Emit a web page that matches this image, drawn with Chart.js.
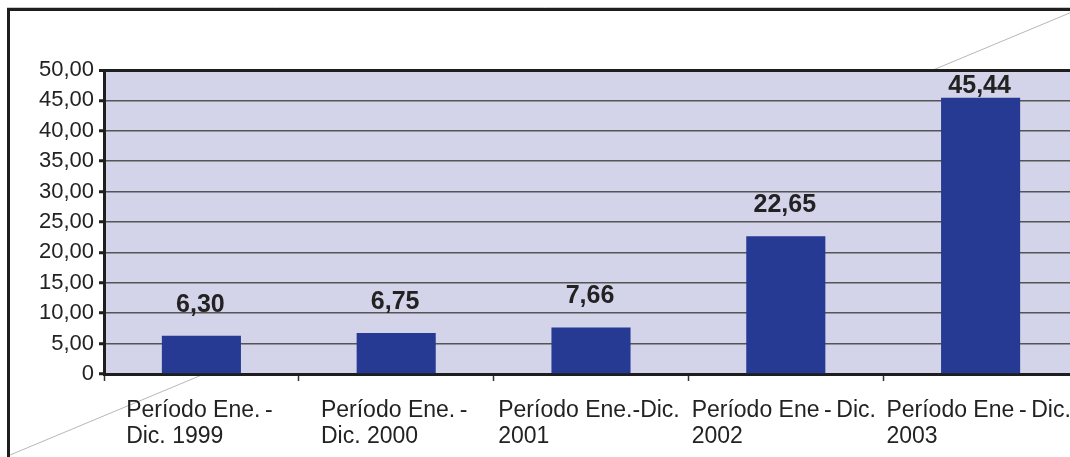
<!DOCTYPE html>
<html>
<head>
<meta charset="utf-8">
<script src="https://cdn.jsdelivr.net/npm/chart.js@4"></script>
<style>
  body { margin: 0; background: #fff; overflow: hidden; width: 1070px; height: 457px; }
  #chart { display: block; }
</style>
</head>
<body>
<canvas id="chart" width="1082" height="457"></canvas>
<script>
const periods = [
  ["Período Ene.\u2009-", "Dic. 1999"],
  ["Período Ene.\u2009-", "Dic. 2000"],
  ["Período Ene.-Dic.", "2001"],
  ["Período Ene\u2009-\u2009Dic.", "2002"],
  ["Período Ene\u2009-\u2009Dic.", "2003"]
];
const values = [6.30, 6.75, 7.66, 22.65, 45.44];

function fmt(v) {
  return v === 0 ? "0" : v.toFixed(2).replace(".", ",");
}

// white page, stray diagonal rule, lavender plot area and the outer frame
const background = {
  id: "background",
  beforeDraw(chart) {
    const c = chart.ctx;
    const a = chart.chartArea;
    c.save();
    c.fillStyle = "#fff";
    c.fillRect(0, 0, chart.width, chart.height);
    c.strokeStyle = "#b8b8b8";
    c.lineWidth = 1;
    c.beginPath();
    c.moveTo(10, 455);
    c.lineTo(1072, 12);
    c.stroke();
    c.fillStyle = "#d3d3e9";
    c.fillRect(a.left, a.top, a.right - a.left, a.bottom - a.top);
    c.strokeStyle = "#c8c8c8";
    c.beginPath();
    c.moveTo(7, 7.5);
    c.lineTo(chart.width, 7.5);
    c.stroke();
    c.strokeStyle = "#1e1e1e";
    c.lineWidth = 3;
    c.beginPath();
    c.moveTo(8.5, chart.height);
    c.lineTo(8.5, 9.5);
    c.lineTo(chart.width, 9.5);
    c.stroke();
    c.restore();
  }
};

// value above each bar, kept inside the plot at the top
const valueLabels = {
  id: "valueLabels",
  afterDatasetsDraw(chart) {
    const c = chart.ctx;
    const meta = chart.getDatasetMeta(0);
    c.save();
    c.font = "bold 25px 'Liberation Sans', Arial, sans-serif";
    c.fillStyle = "#222";
    c.textAlign = "center";
    c.textBaseline = "middle";
    meta.data.forEach((bar, i) => {
      let y = bar.y - 31;
      if (y < chart.chartArea.top + 16) y = chart.chartArea.top + 16;
      c.fillText(fmt(values[i]), bar.x - 1, y);
    });
    c.restore();
  }
};

// category labels: a block centred on the category, lines left aligned inside it
const periodLabels = {
  id: "periodLabels",
  afterDraw(chart) {
    const c = chart.ctx;
    const x = chart.scales.x;
    c.save();
    c.font = "23px 'Liberation Sans', Arial, sans-serif";
    c.fillStyle = "#222";
    c.textAlign = "left";
    c.textBaseline = "alphabetic";
    periods.forEach((lines, i) => {
      const w = Math.max(...lines.map(l => c.measureText(l).width));
      const left = x.getPixelForValue(i) - w / 2 - 2;
      lines.forEach((l, j) => {
        c.fillText(l, left, x.top + 43 + j * 26);
      });
    });
    c.restore();
  }
};

new Chart(document.getElementById("chart"), {
  type: "bar",
  data: {
    labels: periods,
    datasets: [{
      data: values,
      backgroundColor: "#263a94",
      borderWidth: 0,
      categoryPercentage: 1,
      barPercentage: 0.406
    }]
  },
  options: {
    responsive: false,
    animation: false,
    layout: { padding: { left: 0, right: 4, top: 70, bottom: 0 } },
    plugins: { legend: { display: false }, tooltip: { enabled: false } },
    scales: {
      x: {
        afterFit(scale) {
          scale.height = 83;
          scale.paddingLeft = 0;
          scale.paddingRight = 0;
        },
        grid: {
          drawOnChartArea: false,
          tickLength: 7,
          tickColor: "#333",
          tickWidth: 1.5
        },
        border: { color: "#1e1e1e", width: 3 },
        ticks: { display: false }
      },
      y: {
        min: 0,
        max: 50,
        afterFit(scale) {
          scale.width = 104;
          scale.paddingTop = 0;
          scale.paddingBottom = 0;
        },
        grid: {
          color: ctx => ctx.tick && ctx.tick.value === 50 ? "#1e1e1e" : "#555",
          lineWidth: ctx => ctx.tick && ctx.tick.value === 50 ? 3 : 1.5,
          tickLength: 5,
          tickColor: "#1e1e1e",
          tickWidth: 3
        },
        border: { color: "#1e1e1e", width: 3 },
        ticks: {
          stepSize: 5,
          padding: 5,
          color: "#222",
          font: { family: "'Liberation Sans', Arial, sans-serif", size: 22 },
          callback: v => fmt(v)
        }
      }
    }
  },
  plugins: [background, valueLabels, periodLabels]
});
</script>
</body>
</html>
